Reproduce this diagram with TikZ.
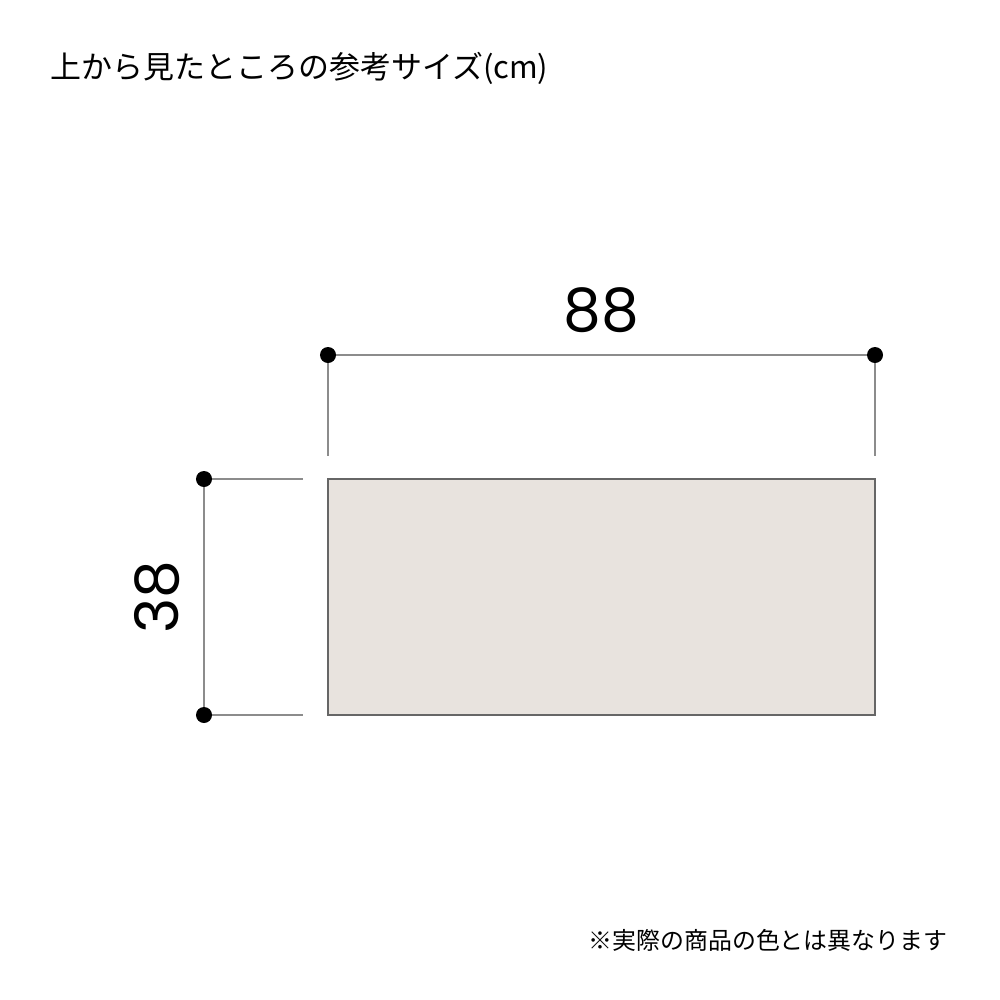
\documentclass[tikz,border=0pt]{standalone}
\usepackage{fontspec}
\newfontfamily\jpfont{Noto Sans CJK JP}
\newfontfamily\numfont{Poppins}
\usetikzlibrary{positioning}
\definecolor{boardfill}{HTML}{E8E3DE}

\begin{document}
\begin{tikzpicture}[
	x = 0.01cm, y = -0.01cm,
	dimline/.style={color=black!45, line width=0.45pt},
	board/.style={draw=black!60, fill=boardfill, line width=0.4pt},
	dot/.style={circle, fill=black, minimum size=0.16cm, inner sep=0pt, outer sep=0pt},
	dimtext/.style={font=\numfont\fontsize{17}{17}\selectfont, inner sep=0pt},
	]
	\useasboundingbox (0,0) rectangle (1000,1000);
	
	\node (title) [anchor=west, inner sep=0pt, font=\jpfont\fontsize{8.8}{10}\selectfont] at (50,68) {上から見たところの参考サイズ(cm)};
	
	% width
	\node (W1) [dot] at (328,355) {};
	\node (W2) [dot] at (875,355) {};
	\coordinate (W1e) at (328,456);
	\coordinate (W2e) at (875,456);
	\draw[dimline] (W1) -- (W2);
	\draw[dimline] (W1) -- (W1e);
	\draw[dimline] (W2) -- (W2e);
	\node (width) [dimtext] at (601,310) {88};
	
	% depth
	\node (D1) [dot] at (204,479) {};
	\node (D2) [dot] at (204,715) {};
	\coordinate (D1e) at (303,479);
	\coordinate (D2e) at (303,715);
	\draw[dimline] (D1) -- (D2);
	\draw[dimline] (D1) -- (D1e);
	\draw[dimline] (D2) -- (D2e);
	\node (depth) [dimtext, rotate=90] at (157,597) {38};
	
	\draw[board] (328,479) rectangle (875,715);
	
	\node (note) [anchor=east, inner sep=0pt, font=\jpfont\fontsize{6.8}{8}\selectfont] at (948,940) {※実際の商品の色とは異なります};
\end{tikzpicture}
\end{document}
